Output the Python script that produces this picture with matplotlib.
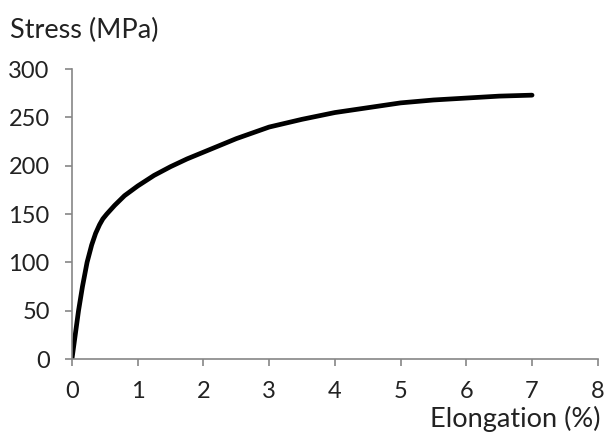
import numpy as np
import matplotlib.pyplot as plt

plt.rcParams['font.family'] = ['Lato', 'DejaVu Sans']

elongation = [0, 0.05, 0.1, 0.16, 0.23, 0.3, 0.36, 0.42, 0.47, 0.53, 0.65, 0.8,
              1.0, 1.25, 1.5, 1.75, 2.0, 2.5, 3.0, 3.5, 4.0, 4.5, 5.0, 5.5,
              6.0, 6.5, 7.0]
stress = [0, 25, 50, 75, 100, 118, 130, 139, 145, 150, 159, 169,
          179, 190, 199, 207, 214, 228, 240, 248, 255, 260, 265, 268,
          270, 272, 273]

fig = plt.figure(figsize=(6.15, 4.36), dpi=100)
ax = fig.add_axes([0.117, 0.1766, 0.855, 0.665])

ax.plot(elongation, stress, color='black', linewidth=3.4, solid_capstyle='round',
        solid_joinstyle='round')

ax.set_xlim(0, 8)
ax.set_ylim(0, 300)
ax.set_xticks(range(0, 9))
ax.set_yticks(range(0, 301, 50))

for s in ['top', 'right']:
    ax.spines[s].set_visible(False)
for s in ['left', 'bottom']:
    ax.spines[s].set_color('#868686')
    ax.spines[s].set_linewidth(1.2)
ax.tick_params(colors='#868686', labelcolor='#222222', labelsize=17, length=5, width=1.2)
ax.tick_params(axis='y', pad=11)
ax.tick_params(axis='x', pad=11)

fig.text(0.016, 0.93, 'Stress (MPa)', fontsize=19.5, color='#222222', ha='left', va='center')
fig.text(0.976, 0.04, 'Elongation (%)', fontsize=19.5, color='#222222', ha='right', va='center')

fig.savefig('out.png', dpi=100)
